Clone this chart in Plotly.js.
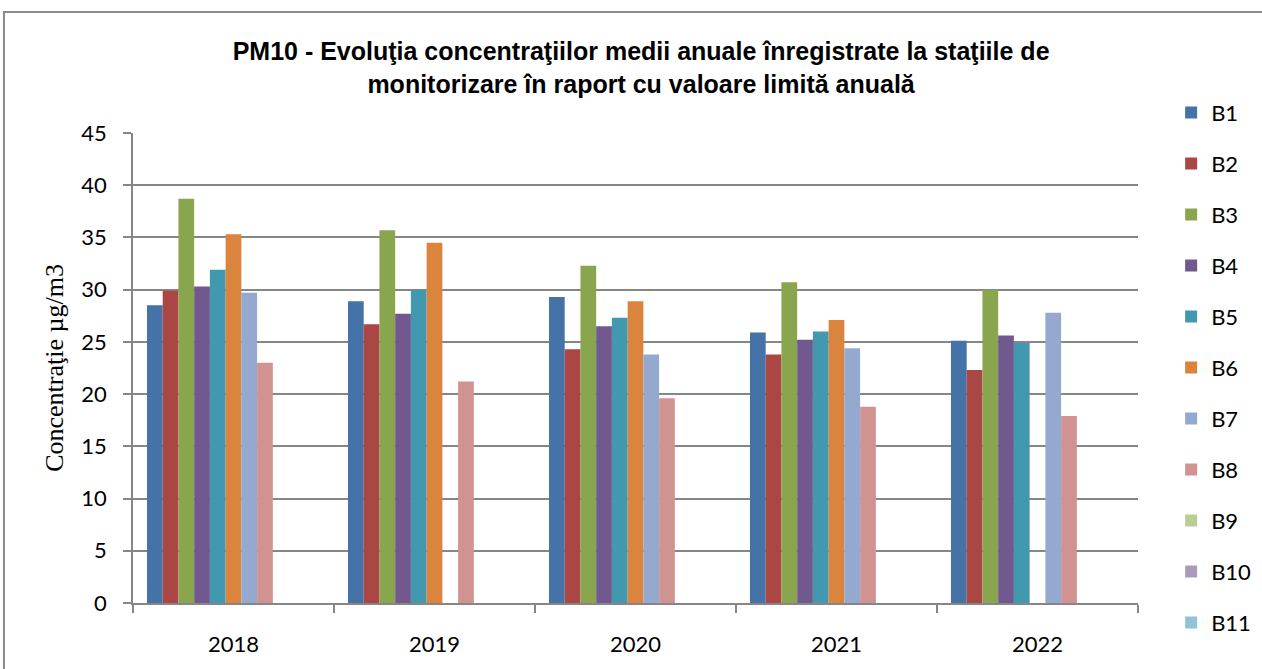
<!DOCTYPE html>
<html>
<head>
<meta charset="utf-8">
<script src="https://cdn.plot.ly/plotly-3.0.1.min.js"></script>
<style>
  body { margin: 0; background: #fff; }
  #chart { width: 1262px; height: 669px; }
</style>
</head>
<body>
<div id="chart"></div>
<script>
// years on the x axis
const years = ['2018', '2019', '2020', '2021', '2022'];

// station values (µg/m3), null = no data that year
const b1 = [28.5, 28.9, 29.3, 25.9, 25.1];
const b2 = [29.9, 26.7, 24.3, 23.8, 22.3];
const b3 = [38.7, 35.7, 32.3, 30.7, 30.0];
const b4 = [30.3, 27.7, 26.5, 25.2, 25.6];
const b5 = [31.9, 30.0, 27.3, 26.0, 24.9];
const b6 = [35.3, 34.5, 28.9, 27.1, null];
const b7 = [29.7, null, 23.8, 24.4, 27.8];
const b8 = [23.0, 21.2, 19.6, 18.8, 17.9];
const b9 = [null, null, null, null, null];
const b10 = [null, null, null, null, null];
const b11 = [null, null, null, null, null];

const stations = ['B1', 'B2', 'B3', 'B4', 'B5', 'B6', 'B7', 'B8', 'B9', 'B10', 'B11'];
const series = [b1, b2, b3, b4, b5, b6, b7, b8, b9, b10, b11];
const colors = ['#4572A7', '#AA4643', '#89A54E', '#71588F', '#4198AF', '#DB843D',
                '#93A9CF', '#D19392', '#B9CD96', '#A99BBD', '#92C3D4'];

let data = stations.map((name, i) => ({
    x: years,
    y: series[i],
    type: 'bar',
    name: name,
    legendgroup: name,  // one group per station so tracegroupgap spaces the legend
    marker: {color: colors[i]}
}));

const gray = '#868686';

let layout = {
    width: 1262,
    height: 669,
    margin: {l: 133, r: 124, t: 133, b: 66},
    paper_bgcolor: '#fff',
    plot_bgcolor: '#fff',
    barmode: 'group',
    bargap: 0.139,
    bargroupgap: 0,
    font: {family: 'Lato, "Liberation Sans", sans-serif', size: 22, color: '#000'},
    title: {
        text: 'PM10 - Evoluţia concentraţiilor medii anuale înregistrate la staţiile de<br>monitorizare în raport cu valoare limită anuală',
        font: {family: '"Liberation Sans", Arial, sans-serif', size: 25, color: '#000', weight: 'bold'},
        x: 0.508,
        xanchor: 'center',
        y: 0.91,
        yanchor: 'middle'
    },
    xaxis: {
        type: 'category',
        tickson: 'boundaries',
        ticks: 'outside',
        ticklen: 8,
        tickcolor: gray,
        tickwidth: 1.5,
        ticklabelstandoff: 21,
        showline: true,
        linecolor: gray,
        linewidth: 1.5,
        showgrid: false,
        zeroline: false
    },
    yaxis: {
        range: [0, 45],
        dtick: 5,
        ticks: 'outside',
        ticklen: 8,
        tickcolor: gray,
        tickwidth: 1.5,
        ticklabelstandoff: 12,
        showline: true,
        linecolor: gray,
        linewidth: 1.5,
        showgrid: true,
        gridcolor: gray,
        gridwidth: 1.5,
        zeroline: false,
        title: {
            text: 'Concentraţie µg/m3',
            font: {family: '"Liberation Serif", "Times New Roman", serif', size: 26, color: '#000'},
            standoff: 10
        }
    },
    // legend placed in container units so it does not push the right margin
    legend: {
        xref: 'container',
        yref: 'container',
        x: 0.928,
        xanchor: 'left',
        y: 0.8628,
        yanchor: 'top',
        maxheight: 640,
        tracegroupgap: 19.4,
        font: {size: 22},
        bgcolor: 'rgba(0,0,0,0)'
    },
    // outer chart frame
    shapes: [{
        type: 'rect',
        xref: 'paper', yref: 'paper',
        x0: -0.1284, x1: 1.3, y0: -0.3, y1: 1.2574,
        line: {color: '#8c8c8c', width: 2},
        fillcolor: 'rgba(0,0,0,0)',
        layer: 'below'
    }]
};

Plotly.newPlot('chart', data, layout, {displayModeBar: false});
</script>
</body>
</html>
